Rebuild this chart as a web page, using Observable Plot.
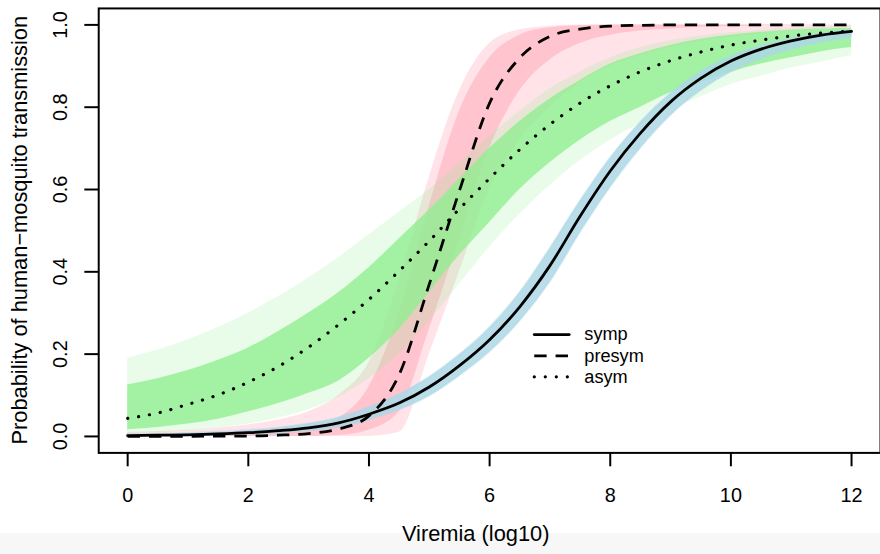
<!DOCTYPE html>
<html><head><meta charset="utf-8">
<script src="https://cdn.jsdelivr.net/npm/d3@7"></script>
<script src="https://cdn.jsdelivr.net/npm/@observablehq/plot@0.6"></script>
<style>
html,body{margin:0;padding:0;overflow:hidden;background:#fff;}
#wrap{width:880px;height:554px;overflow:hidden;position:relative;
background:linear-gradient(to bottom,#fff 0,#fff 533px,#f7f7f7 533px,#f7f7f7 100%);}
</style></head><body><div id="wrap"></div>
<script>
// Viremia grid (log10)
const viremia = [0,0.5,1,1.5,2,2.5,3,3.5,4,4.5,5,5.5,6,6.5,7,7.5,8,8.5,9,9.5,10,10.5,11,11.5,12];

// Mean curves
const sympMean   = [0.002,0.003,0.004,0.006,0.009,0.014,0.021,0.033,0.054,0.081,0.12,0.172,0.235,0.315,0.415,0.535,0.645,0.737,0.813,0.87,0.912,0.941,0.961,0.975,0.984];
const presymMean = [0,0,0,0.001,0.001,0.003,0.007,0.018,0.05,0.15,0.37,0.597,0.81,0.92,0.972,0.99,0.997,0.999,1,1,1,1,1,1,1];
const asymMean   = [0.044,0.057,0.078,0.101,0.132,0.17,0.217,0.272,0.333,0.402,0.475,0.553,0.627,0.697,0.758,0.81,0.852,0.886,0.913,0.934,0.951,0.963,0.973,0.98,0.985];

// Envelopes of the posterior sample curves (dense core and faint outer)
const sympLo = [0.001,0.0015,0.002,0.003,0.005,0.008,0.013,0.022,0.040,0.064,0.098,0.147,0.205,0.28,0.375,0.495,0.605,0.70,0.78,0.84,0.885,0.917,0.94,0.957,0.97];
const sympHi = [0.004,0.005,0.007,0.01,0.014,0.02,0.03,0.045,0.07,0.101,0.143,0.197,0.263,0.348,0.455,0.57,0.675,0.762,0.832,0.885,0.922,0.948,0.966,0.978,0.987];

const presymInLo  = [0,0,0,0,0,0,0,0.002,0.015,0.06,0.26,0.48,0.70,0.84,0.915,0.955,0.975,0.985,0.99,0.994,0.996,0.998,0.999,1,1];
const presymInHi  = [0.003,0.004,0.005,0.007,0.01,0.016,0.025,0.045,0.12,0.30,0.56,0.79,0.92,0.975,0.993,0.998,1,1,1,1,1,1,1,1,1];
const presymOutLo = [0,0,0,0,0,0,0,0,0,0.01,0.2,0.40,0.60,0.72,0.80,0.86,0.90,0.925,0.945,0.96,0.97,0.978,0.985,0.99,0.993];
const presymOutHi = [0.01,0.012,0.015,0.02,0.028,0.04,0.06,0.10,0.18,0.38,0.63,0.84,0.955,0.988,0.997,1,1,1,1,1,1,1,1,1,1];

const asymInLo  = [0.016,0.022,0.03,0.042,0.06,0.08,0.105,0.135,0.19,0.26,0.35,0.44,0.52,0.60,0.665,0.72,0.765,0.80,0.835,0.86,0.885,0.905,0.92,0.935,0.945];
const asymInHi  = [0.125,0.14,0.16,0.185,0.215,0.255,0.30,0.35,0.41,0.48,0.55,0.625,0.70,0.765,0.82,0.865,0.905,0.93,0.95,0.965,0.975,0.982,0.987,0.99,0.992];
const asymOutLo = [0.006,0.009,0.013,0.02,0.03,0.045,0.065,0.095,0.14,0.2,0.28,0.37,0.46,0.54,0.61,0.67,0.72,0.76,0.795,0.825,0.855,0.875,0.895,0.91,0.925];
const asymOutHi = [0.19,0.21,0.235,0.265,0.30,0.34,0.385,0.435,0.49,0.545,0.60,0.665,0.73,0.79,0.845,0.885,0.92,0.945,0.962,0.973,0.981,0.987,0.991,0.994,0.996];

// Axes
const xTicks = [0,2,4,6,8,10,12];
const yTicks = [0,0.2,0.4,0.6,0.8,1.0];
const xTitle = "Viremia (log10)";
const yTitle = "Probability of human\u2212mosquito transmission";

// Legend
const legendNames = ["symp","presym","asym"];
const legendY = [0.2476,0.1955,0.1448];

const rows = viremia.map((x,i)=>({x,
  sympMean:sympMean[i], presymMean:presymMean[i], asymMean:asymMean[i],
  sympLo:sympLo[i], sympHi:sympHi[i],
  presymInLo:presymInLo[i], presymInHi:presymInHi[i], presymOutLo:presymOutLo[i], presymOutHi:presymOutHi[i],
  asymInLo:asymInLo[i], asymInHi:asymInHi[i], asymOutLo:asymOutLo[i], asymOutHi:asymOutHi[i]}));

const styles = {
  symp:   {strokeDasharray:null, strokeLinecap:"round"},
  presym: {strokeDasharray:"12.5,9", strokeLinecap:"butt"},
  asym:   {strokeDasharray:"0.1,11", strokeLinecap:"round"}
};
const legendRows = legendNames.flatMap((n,i)=>[{n,x:6.74,y:legendY[i]},{n,x:7.32,y:legendY[i]}]);
const legendText = legendNames.map((n,i)=>({n,x:7.57,y:legendY[i]}));

const C = "monotone-x";
const lineOpts = n => ({stroke:"black",strokeWidth:2.8,strokeDasharray:styles[n].strokeDasharray,strokeLinecap:styles[n].strokeLinecap});
const plot = Plot.plot({
  width: 887, height: 554,
  marginLeft: 99, marginRight: 0, marginTop: 8, marginBottom: 98,
  style: {background:"transparent", fontFamily:"'Liberation Sans', Arial, Helvetica, sans-serif", color:"black", overflow:"visible"},
  x: {domain:[-0.48,12.48]},
  y: {domain:[-0.04,1.04]},
  marks: [
    Plot.areaY(rows,{x:"x",y1:"presymOutLo",y2:"presymOutHi",fill:"#FFC0CB",fillOpacity:0.45,curve:C}),
    Plot.areaY(rows,{x:"x",y1:"presymInLo",y2:"presymInHi",fill:"#FFC0CB",fillOpacity:0.9,curve:C}),
    Plot.areaY(rows,{x:"x",y1:"asymOutLo",y2:"asymOutHi",fill:"#90EE90",fillOpacity:0.2,curve:C}),
    Plot.areaY(rows,{x:"x",y1:"asymInLo",y2:"asymInHi",fill:"#90EE90",fillOpacity:0.78,curve:C}),
    Plot.areaY(rows,{x:"x",y1:"sympLo",y2:"sympHi",fill:"#ADD8E6",fillOpacity:0.85,stroke:"#ADD8E6",strokeOpacity:0.5,strokeWidth:2,curve:C}),
    Plot.line(rows,{x:"x",y:"sympMean",...lineOpts("symp"),curve:C}),
    Plot.line(rows,{x:"x",y:"presymMean",...lineOpts("presym"),curve:C}),
    Plot.line(rows,{x:"x",y:"asymMean",...lineOpts("asym"),strokeWidth:3.2,curve:C}),
    ...legendNames.map(n=>Plot.line(legendRows.filter(d=>d.n===n),{x:"x",y:"y",...lineOpts(n),strokeWidth:n==="asym"?3.2:2.8})),
    Plot.text(legendText,{x:"x",y:"y",text:"n",textAnchor:"start",lineAnchor:"middle",fontSize:18.3,fill:"black"}),
    Plot.frame({stroke:"black",strokeWidth:2}),
    Plot.axisX({ticks:xTicks,tickSize:14,tickPadding:21,fontSize:20,strokeWidth:2,label:null,tickFormat:d=>String(d)}),
    Plot.axisY({ticks:yTicks,tickSize:14,strokeWidth:2,label:null,tickFormat:()=>""}),
    Plot.axisY({ticks:yTicks,tickSize:0,tickPadding:38,fontSize:20,label:null,rotate:-90,textAnchor:"middle",tickFormat:d=>d.toFixed(1)})
  ]
});
document.getElementById("wrap").appendChild(plot);
const svg = d3.select(plot);
svg.append("text").attr("x",479.5).attr("y",545).attr("text-anchor","middle")
  .attr("font-size",22).attr("fill","black").text(xTitle);
svg.append("text").attr("transform","translate(27.5,232) rotate(-90)").attr("text-anchor","middle")
  .attr("font-size",22).attr("fill","black").text(yTitle);
</script></body></html>
